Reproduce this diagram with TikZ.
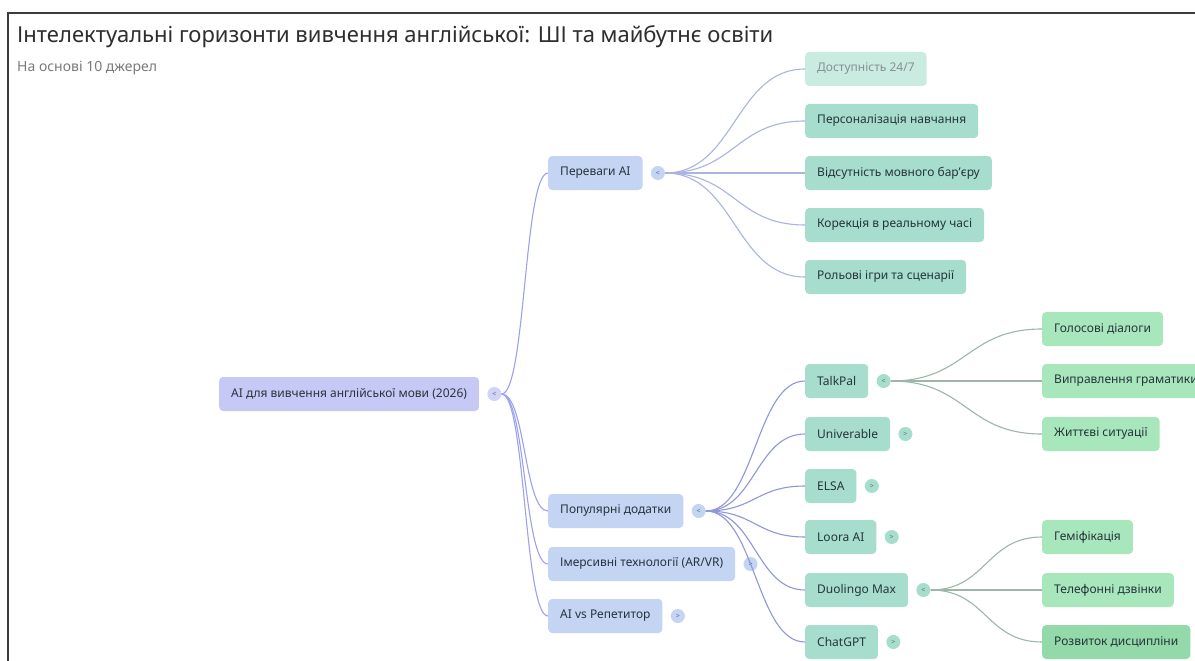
\documentclass[tikz,border=0pt]{standalone}
\usepackage{fontspec}
\setmainfont{Noto Sans}
\usetikzlibrary{positioning}

\definecolor{rootc}{HTML}{C6C9F6}
\definecolor{onec}{HTML}{C3D5F3}
\definecolor{twoc}{HTML}{A6DDCC}
\definecolor{threec}{HTML}{A8E6BC}
\definecolor{deepc}{HTML}{93D9A9}
\definecolor{inkc}{HTML}{26343C}
\definecolor{titlec}{HTML}{2E2E2E}
\definecolor{subc}{HTML}{7A7A7A}
\definecolor{framec}{HTML}{3C3C3C}
\definecolor{rootlink}{HTML}{9CA2EC}
\definecolor{onelink}{HTML}{A9B5DE}
\definecolor{appslink}{HTML}{8E97D8}
\definecolor{twolink}{HTML}{9DB6AA}

\tikzset{
  box/.style={rectangle, rounded corners=4pt, minimum height=34pt, inner xsep=12pt,
    anchor=west, font=\fontsize{12}{14}\selectfont, text=inkc},
  rootbox/.style={box, fill=rootc},
  onebox/.style={box, fill=onec},
  twobox/.style={box, fill=twoc},
  threebox/.style={box, fill=threec},
  toggle/.style={circle, minimum size=14pt, inner sep=0pt, right=8pt of #1,
    font=\fontsize{7}{7}\selectfont, text=inkc!75},
  link/.style={line width=1.1pt},
}

\begin{document}
\begin{tikzpicture}[x=1pt,y=-1pt]
	\useasboundingbox (0,0) rectangle (1195,661);
	\clip (0,0) rectangle (1195,661);
	\fill[white] (0,0) rectangle (1195,661);
	\draw[framec, line width=1.6pt] (8,661) -- (8,13) -- (1195,13);

	% heading
	\node[anchor=base west, inner sep=0pt, font=\fontsize{22}{26}\selectfont, text=titlec] (title) at (17,43)
		{Інтелектуальні горизонти вивчення англійської: ШІ та майбутнє освіти};
	\node[anchor=base west, inner sep=0pt, font=\fontsize{14}{16}\selectfont, text=subc] (sub) at (17,72)
		{На основі 10 джерел};

	% root and first level
	\node[rootbox] (root) at (219,394) {AI для вивчення англійської мови (2026)};
	\node[toggle=root, fill=rootc!80] (root-t) {<};

	\node[onebox] (pa) at (548,173) {Переваги AI};
	\node[onebox] (pd) at (548,511) {Популярні додатки};
	\node[onebox] (it) at (548,564) {Імерсивні технології (AR/VR)};
	\node[onebox] (ar) at (548,616) {AI vs Репетитор};
	\node[toggle=pa, fill=onec] (pa-t) {<};
	\node[toggle=pd, fill=onec] (pd-t) {<};
	\node[toggle=it, fill=onec] (it-t) {>};
	\node[toggle=ar, fill=onec] (ar-t) {>};

	% advantages
	\node[twobox, fill=twoc!60, text=inkc!55] (pa1) at (805,69) {Доступність 24/7};
	\node[twobox] (pa2) at (805,121) {Персоналізація навчання};
	\node[twobox] (pa3) at (805,173) {Відсутність мовного бар'єру};
	\node[twobox] (pa4) at (805,225) {Корекція в реальному часі};
	\node[twobox] (pa5) at (805,277) {Рольові ігри та сценарії};

	% apps
	\node[twobox] (tp) at (805,381) {TalkPal};
	\node[twobox] (un) at (805,434) {Univerable};
	\node[twobox] (el) at (805,486) {ELSA};
	\node[twobox] (lo) at (805,537) {Loora AI};
	\node[twobox] (du) at (805,590) {Duolingo Max};
	\node[twobox] (cg) at (805,642) {ChatGPT};
	\node[toggle=tp, fill=twoc] (tp-t) {<};
	\node[toggle=un, fill=twoc] (un-t) {>};
	\node[toggle=el, fill=twoc] (el-t) {>};
	\node[toggle=lo, fill=twoc] (lo-t) {>};
	\node[toggle=du, fill=twoc] (du-t) {<};
	\node[toggle=cg, fill=twoc] (cg-t) {>};

	% third level
	\node[threebox] (tp1) at (1042,329) {Голосові діалоги};
	\node[threebox] (tp2) at (1042,381) {Виправлення граматики};
	\node[threebox] (tp3) at (1042,434) {Життєві ситуації};
	\node[threebox] (du1) at (1042,537) {Геміфікація};
	\node[threebox] (du2) at (1042,590) {Телефонні дзвінки};
	\node[threebox, fill=deepc] (du3) at (1042,642) {Розвиток дисципліни};

	% links
	\foreach \c in {pa,pd,it,ar}
		\draw[link, rootlink] (root-t.east) .. controls +(24,0) and +(-24,0) .. (\c.west);
	\foreach \c in {pa1,pa2,pa3,pa4,pa5}
		\draw[link, onelink] (pa-t.east) .. controls +(70,0) and +(-70,0) .. (\c.west);
	\foreach \c in {tp,un,el,lo,du,cg}
		\draw[link, appslink] (pd-t.east) .. controls +(49,0) and +(-49,0) .. (\c.west);
	\foreach \c in {tp1,tp2,tp3}
		\draw[link, twolink] (tp-t.east) .. controls +(76,0) and +(-76,0) .. (\c.west);
	\foreach \c in {du1,du2,du3}
		\draw[link, twolink] (du-t.east) .. controls +(56,0) and +(-56,0) .. (\c.west);
\end{tikzpicture}
\end{document}
